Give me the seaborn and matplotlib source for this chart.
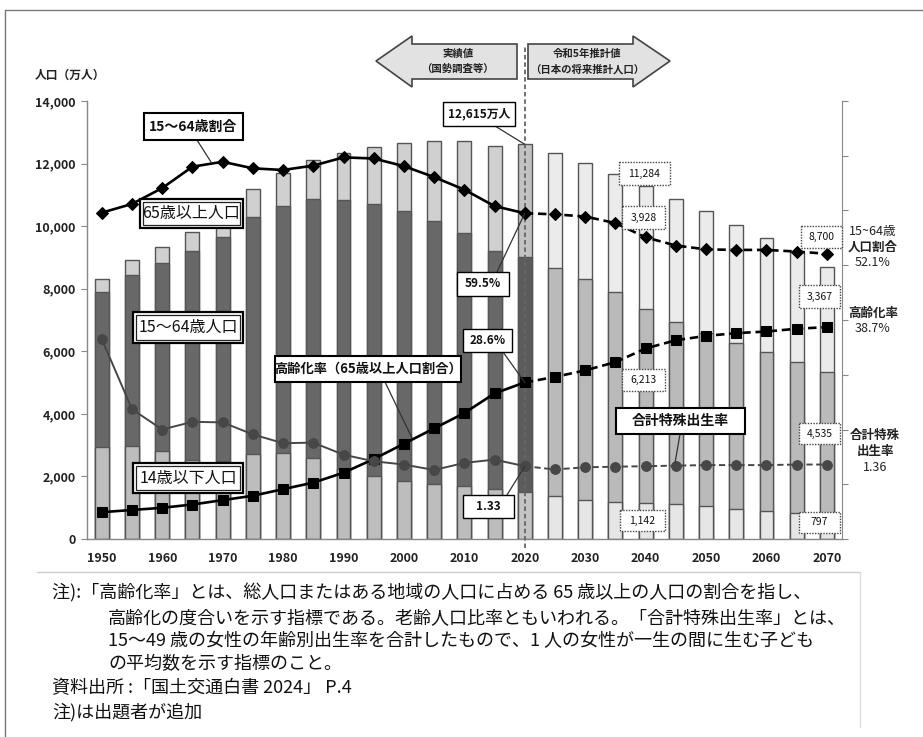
import numpy as np
import matplotlib
matplotlib.use("Agg")
import matplotlib.pyplot as plt
import seaborn as sns
from matplotlib.patches import Rectangle, Polygon, ConnectionPatch
from matplotlib.lines import Line2D
from matplotlib.transforms import Affine2D

# ---------------- data ----------------
years = [1950, 1955, 1960, 1965, 1970, 1975, 1980, 1985, 1990, 1995, 2000, 2005,
         2010, 2015, 2020, 2025, 2030, 2035, 2040, 2045, 2050, 2055, 2060, 2065, 2070]
age0_14 = [2943, 2980, 2807, 2517, 2482, 2722, 2751, 2603, 2249, 2001, 1847, 1752,
           1680, 1589, 1503, 1363, 1240, 1169, 1142, 1103, 1041, 966, 893, 836, 797]
age15_64 = [4966, 5473, 6000, 6693, 7157, 7581, 7883, 8251, 8590, 8716, 8622, 8409,
            8103, 7629, 7509, 7310, 7076, 6722, 6213, 5832, 5540, 5307, 5078, 4809, 4535]
age65 = [411, 475, 535, 618, 733, 887, 1065, 1247, 1489, 1826, 2201, 2567,
         2925, 3347, 3603, 3653, 3696, 3773, 3928, 3945, 3888, 3778, 3644, 3513, 3367]
share15_64 = [59.6, 61.2, 64.1, 68.0, 68.9, 67.7, 67.4, 68.2, 69.7, 69.5, 68.1, 66.1,
              63.8, 60.8, 59.5, 59.3, 58.9, 57.7, 55.1, 53.6, 52.9, 52.8, 52.8, 52.5, 52.1]
aging_rate = [4.9, 5.3, 5.7, 6.3, 7.1, 7.9, 9.1, 10.3, 12.1, 14.6, 17.4, 20.2,
              23.0, 26.6, 28.6, 29.6, 30.8, 32.3, 34.8, 36.3, 37.1, 37.6, 37.9, 38.4, 38.7]
tfr = [3.65, 2.37, 2.00, 2.14, 2.13, 1.91, 1.75, 1.76, 1.54, 1.42, 1.36, 1.26,
       1.39, 1.45, 1.33, 1.27, 1.31, 1.32, 1.33, 1.34, 1.35, 1.35, 1.35, 1.36, 1.36]
base_year = 2020
yticks_left = [0, 2000, 4000, 6000, 8000, 10000, 12000, 14000]
yticks_right = [0, 10, 20, 30, 40, 50, 60, 70, 80]

# ---------------- figure ----------------
W, H = 923, 737
sns.set_style("white")
plt.rcParams["font.family"] = ["Noto Sans CJK JP", "DejaVu Sans"]
fig = plt.figure(figsize=(W / 100, H / 100), dpi=100)
ax = fig.add_axes([86.7 / W, 1 - 539 / H, (842 - 86.7) / W, 438 / H])
T = Affine2D().scale(1 / W, -1 / H).translate(0, 1) + fig.transFigure

labels = [str(y) for y in years]
n = len(years)
pos = np.arange(n)
bidx = years.index(base_year)
cum_young_work = [a + b for a, b in zip(age0_14, age15_64)]
total = [a + b + c for a, b, c in zip(age0_14, age15_64, age65)]


def pal(past, base, proj):
    return {lab: (past if y < base_year else base if y == base_year else proj)
            for lab, y in zip(labels, years)}


bar_kw = dict(order=labels, hue_order=labels, width=0.46, edgecolor="#555555",
              linewidth=1.0, legend=False, ax=ax, dodge=False, saturation=1)
sns.barplot(x=labels, y=total, hue=labels, palette=pal("#d0d0d0", "#c2c2c2", "#ebebeb"), **bar_kw)
sns.barplot(x=labels, y=cum_young_work, hue=labels, palette=pal("#686868", "#5c5c5c", "#bababa"), **bar_kw)
sns.barplot(x=labels, y=age0_14, hue=labels, palette=pal("#bdbdbd", "#c4c4c4", "#e6e6e6"), **bar_kw)

ax.set_xlim(-0.5, n - 0.5)
ax.set_ylim(0, 14000)
ax.set_xlabel("")
ax.set_ylabel("")
ax.set_yticks(yticks_left, [f"{v:,}" for v in yticks_left])
ax.set_xticks(pos[::2], labels[::2])
ax.set_xticks(np.arange(-0.5, n), minor=True)
ax.tick_params(axis="x", which="major", length=0, pad=9, labelsize=9, labelcolor="#222222")
ax.tick_params(axis="x", which="minor", length=4, direction="out", color="#888888", width=1)
ax.tick_params(axis="y", length=4, direction="out", color="#888888", labelsize=9,
               labelcolor="#222222", pad=4)
for lab in ax.get_xticklabels() + ax.get_yticklabels():
    lab.set_fontweight("bold")
for s in ["top", "right"]:
    ax.spines[s].set_visible(False)
for s in ["left", "bottom"]:
    ax.spines[s].set_color("#888888")
    ax.spines[s].set_linewidth(1)

# 2020 divider
ax.axvline(bidx, ymin=-0.02, ymax=1.128, color="#666666", lw=1.3,
           linestyle=(0, (2.5, 1.6)), clip_on=False, zorder=5)

# ratio axes
ax2 = ax.twinx()
ax2.set_ylim(0, 80)
ax2.set_yticks(yticks_right)
ax2.tick_params(axis="y", length=4, direction="out", color="#888888", labelright=False)
for s in ["top", "left", "bottom"]:
    ax2.spines[s].set_visible(False)
ax2.spines["right"].set_color("#888888")
ax3 = ax.twinx()
ax3.set_ylim(0, 8)
ax3.axis("off")

past = pos <= bidx
proj = pos >= bidx
dash = (0, (3.2, 1.8))


def draw(axis, vals, marker, ms, color, lw):
    v = np.array(vals)
    for m, ls in [(past, "-"), (proj, dash)]:
        sns.lineplot(x=pos[m], y=v[m], ax=axis, color=color, lw=lw, linestyle=ls,
                     marker=marker, markersize=ms, markeredgecolor=color,
                     markerfacecolor=color)
    axis.set_xlabel("")
    axis.set_ylabel("")


draw(ax2, share15_64, "D", 6, "black", 1.9)
draw(ax2, aging_rate, "s", 6.5, "black", 1.9)
draw(ax3, tfr, "o", 7, "#474747", 1.4)
ax3.set_ylim(0, 8)
ax2.set_ylim(0, 80)
ax.set_xlim(-0.5, n - 0.5)

# ---------------- annotations ----------------
def box(x0, y0, x1, y1, text, fs, style="solid", weight="normal"):
    if style == "double":
        fig.add_artist(Rectangle((x0, y0), x1 - x0, y1 - y0, transform=T, fc="white",
                                 ec="black", lw=1.6, zorder=5))
        fig.add_artist(Rectangle((x0 + 3, y0 + 3), x1 - x0 - 6, y1 - y0 - 6, transform=T,
                                 fc="white", ec="#222222", lw=0.9, zorder=5))
    elif style == "dotted":
        fig.add_artist(Rectangle((x0, y0), x1 - x0, y1 - y0, transform=T, fc="white",
                                 ec="#444444", lw=1.0, ls=(0, (1, 1)), zorder=5))
    else:
        fig.add_artist(Rectangle((x0, y0), x1 - x0, y1 - y0, transform=T, fc="white",
                                 ec="black", lw=1.5 if style == "solid" else 1.0, zorder=5))
    fig.text((x0 + x1) / 2, (y0 + y1) / 2, text, transform=T, ha="center", va="center",
             fontsize=fs, fontweight=weight, color="#111111", zorder=6)


def leader(px, py, xy, coords):
    fig.add_artist(ConnectionPatch(xyA=(px, py), coordsA=T, xyB=xy, coordsB=coords,
                                   color="#333333", lw=0.9, zorder=4))


# arrows
fig.add_artist(Polygon([(376, 61), (412, 36), (412, 44), (517, 44), (517, 79), (412, 79), (412, 87)],
                       closed=True, transform=T, fc="#e2e2e2", ec="#444444", lw=1.2, zorder=3))
fig.add_artist(Polygon([(528, 44), (633, 44), (633, 36), (670, 61), (633, 87), (633, 79), (528, 79)],
                       closed=True, transform=T, fc="#e2e2e2", ec="#444444", lw=1.2, zorder=3))
fig.text(458, 54, "実績値", transform=T, ha="center", va="center", fontsize=7.5, fontweight="bold", color="#222222")
fig.text(457, 69, "（国勢調査等）", transform=T, ha="center", va="center", fontsize=7.5, fontweight="bold", color="#222222")
fig.text(587, 54, "令和5年推計値", transform=T, ha="center", va="center", fontsize=7.5, fontweight="bold", color="#222222")
fig.text(587, 69, "（日本の将来推計人口）", transform=T, ha="center", va="center", fontsize=7.5, fontweight="bold", color="#222222")

leader(197, 140, (211, 162), T)
box(144, 113, 243, 140, "15〜64歳割合", 10, "solid", "bold")
box(140, 199, 243, 228, "65歳以上人口", 11.5, "double", "normal")
box(133, 312, 243, 343, "15〜64歳人口", 11.5, "double", "normal")
box(133, 463, 243, 493, "14歳以下人口", 11.5, "double", "normal")
leader(385, 382, (412, 438), T)
box(275, 356, 461, 382, "高齢化率（65歳以上人口割合）", 9.5, "solid", "bold")

leader(495, 126, (bidx, total[bidx]), ax.transData)
box(443, 102, 515, 126, f"{total[bidx]:,}万人", 8.5, "thin", "bold")
leader(497, 272, (bidx, share15_64[bidx]), ax2.transData)
box(457, 272, 509, 296, f"{share15_64[bidx]}%", 8.5, "thin", "bold")
leader(503, 352, (bidx, aging_rate[bidx]), ax2.transData)
box(463, 329, 512, 352, f"{aging_rate[bidx]}%", 8.5, "thin", "bold")
leader(507, 495, (bidx, tfr[bidx]), ax3.transData)
box(463, 495, 514, 518, f"{tfr[bidx]}", 8.5, "thin", "bold")
leader(680, 434, (675, 463), T)
box(616, 408, 745, 434, "合計特殊出生率", 10, "solid", "bold")

box(619, 162, 670, 185, "11,284", 7.5, "dotted")
box(622, 206, 665, 229, "3,928", 7.5, "dotted")
box(622, 369, 665, 391, "6,213", 7.5, "dotted")
box(620, 510, 665, 531, "1,142", 7.5, "dotted")
box(801, 226, 842, 248, "8,700", 7.5, "dotted")
box(799, 285, 840, 308, "3,367", 7.5, "dotted")
box(799, 423, 840, 444, "4,535", 7.5, "dotted")
box(799, 512, 840, 533, "797", 7.5, "dotted")

# right-side labels
for x, y, t in [(873, 231, "15~64歳"), (873, 247, "人口割合"), (873, 263, "52.1%"),
                (873, 313, "高齢化率"), (873, 329, "38.7%"),
                (875, 436, "合計特殊"), (875, 452, "出生率"), (875, 468, "1.36")]:
    fig.text(x, y, t, transform=T, ha="center", va="center", fontsize=9, color="#222222",
             fontweight="bold" if not t[0].isdigit() else "normal")

fig.text(35, 75, "人口（万人）", transform=T, ha="left", va="center", fontsize=8.5,
         fontweight="bold", color="#222222")

# frame lines
for (xa, ya), (xb, yb), c in [((5, 10), (923, 10), "#777777"), ((5, 10), (5, 737), "#777777"),
                              ((37, 572), (860, 572), "#cccccc"), ((860, 572), (860, 727), "#dddddd")]:
    fig.add_artist(Line2D([xa, xb], [ya, yb], transform=T, color=c, lw=1))

# notes
notes = [
    (52, 593, "注):「高齢化率」とは、総人口またはある地域の人口に占める 65 歳以上の人口の割合を指し、"),
    (108, 618, "高齢化の度合いを示す指標である。老齢人口比率ともいわれる。「合計特殊出生率」とは、"),
    (108, 641, "15〜49 歳の女性の年齢別出生率を合計したもので、1 人の女性が一生の間に生む子ども"),
    (108, 664, "の平均数を示す指標のこと。"),
    (52, 688, "資料出所 :「国土交通白書 2024」 P.4"),
    (52, 712, "注)は出題者が追加"),
]
for x, y, t in notes:
    fig.text(x, y, t, transform=T, ha="left", va="center", fontsize=13, color="#111111")

fig.savefig("out.png", dpi=100)
